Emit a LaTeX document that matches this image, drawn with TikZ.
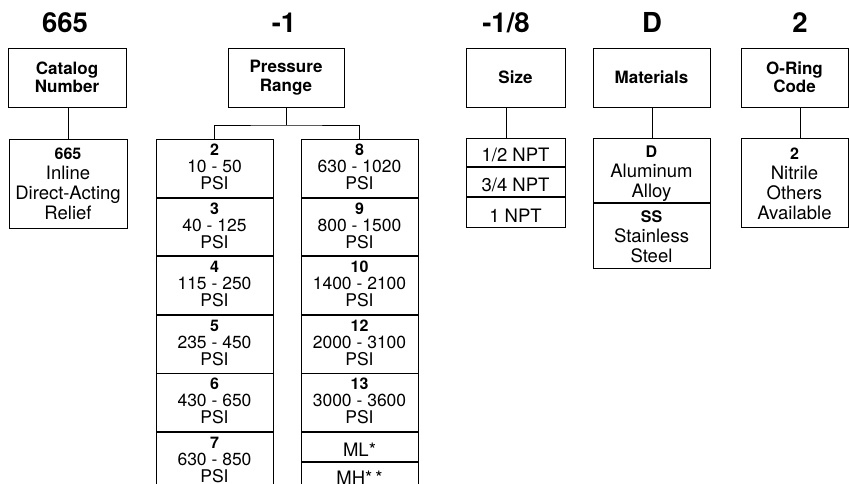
\documentclass[tikz,border=0pt]{standalone}
\usepackage{fontspec}
\setmainfont{TeX Gyre Heros}
\usetikzlibrary{positioning}

\newcommand{\hdfont}{\fontsize{27.5}{30}\selectfont\bfseries}
\newcommand{\lblfont}{\fontsize{17}{18.5}\selectfont\bfseries}
\newcommand{\txtfont}{\fontsize{18.5}{20}\selectfont}
\newcommand{\psifont}{\fontsize{17.5}{17}\selectfont}
\newcommand{\pnum}[1]{{\fontsize{16}{16}\selectfont\bfseries #1}}

\begin{document}
\begin{tikzpicture}[x=1pt,y=-1pt,line width=0.9pt]
\tikzset{
  head/.style={font=\hdfont,anchor=base,inner sep=0pt},
  title/.style={draw,align=center,font=\lblfont,minimum height=59pt,inner sep=0pt},
  box/.style={draw,align=center,anchor=north,inner sep=0pt,font=\txtfont},
  psi/.style={box,font=\psifont,minimum width=117pt,text height=50pt,text depth=7.7pt},
  row/.style={box,text height=#1,text depth=5pt},
}
% page is the 849 x 484 sheet, y runs downwards
\useasboundingbox (0,0) rectangle (849,484);
\clip (0,0) rectangle (849,484);
% --- catalog number ---
\node[head] (cath) at (65,33) {665};
\node[title,minimum width=118pt] (cat) at (67,77.5) {Catalog\\Number};
\node[box,minimum width=118pt,text height=80pt,text depth=9pt] (c1) at (68,139)
  {\pnum{665}\\Inline\\Direct-Acting\\Relief};
\draw (cat.south -| c1.north) -- (c1.north);
% --- pressure range ---
\node[head] (prh) at (284,33) {-1};
\node[title,minimum width=116pt] (pr) at (286,77.5) {Pressure\\Range};
\coordinate (prj) at (286,125);                          % split point
\node[psi] (p2) at (214.5,139) {\pnum{2}\\10 - 50\\PSI};
\node[psi,below=0pt of p2] (p3) {\pnum{3}\\40 - 125\\PSI};
\node[psi,below=0pt of p3] (p4) {\pnum{4}\\115 - 250\\PSI};
\node[psi,below=0pt of p4] (p5) {\pnum{5}\\235 - 450\\PSI};
\node[psi,below=0pt of p5] (p6) {\pnum{6}\\430 - 650\\PSI};
\node[psi,below=0pt of p6] (p7) {\pnum{7}\\630 - 850\\PSI};
\node[psi] (p8) at (359.5,139) {\pnum{8}\\630 - 1020\\PSI};
\node[psi,below=0pt of p8] (p9) {\pnum{9}\\800 - 1500\\PSI};
\node[psi,below=0pt of p9] (p10) {\pnum{10}\\1400 - 2100\\PSI};
\node[psi,below=0pt of p10] (p12) {\pnum{12}\\2000 - 3100\\PSI};
\node[psi,below=0pt of p12] (p13) {\pnum{13}\\3000 - 3600\\PSI};
\node[row=24pt,minimum width=117pt,below=0pt of p13] (pml) {ML*};
\node[row=22pt,minimum width=117pt,below=0pt of pml] (pmh) {MH*\,*};
\draw (pr.south) -- (prj);
\draw (p2.north) |- (prj) -| (p8.north);
% --- size ---
\node[head] (szh) at (506,33) {-1/8};
\node[title,minimum width=99pt] (sz) at (515.5,77.5) {Size};
\node[row=23pt,minimum width=99pt] (s1) at (515.5,138) {1/2 NPT};
\node[row=24pt,minimum width=99pt,below=0pt of s1] (s2) {3/4 NPT};
\node[row=25pt,minimum width=99pt,below=0pt of s2] (s3) {1 NPT};
\draw (sz.south -| szh) -- (s1.north -| szh);
% --- materials ---
\node[head] (mth) at (652,33) {D};
\node[title,minimum width=117pt] (mt) at (651.5,77.5) {Materials};
\node[box,minimum width=117pt,text height=59pt,text depth=5pt] (m1) at (651.5,138)
  {\pnum{D}\\Aluminum\\Alloy};
\node[box,minimum width=117pt,text height=59pt,text depth=6pt,below=0pt of m1] (m2)
  {\pnum{SS}\\Stainless\\Steel};
\draw (mt.south -| mth) -- (m1.north -| mth);
% --- o-ring code ---
\node[head] (orh) at (800,33) {2};
\node[title,minimum width=107pt] (or) at (794.5,77.5) {O-Ring\\Code};
\node[box,minimum width=107pt,text height=81pt,text depth=8pt] (o1) at (794.5,138)
  {\pnum{2}\\Nitrile\\Others\\Available};
\draw (or.south -| orh) -- (o1.north -| orh);
\end{tikzpicture}
\end{document}
